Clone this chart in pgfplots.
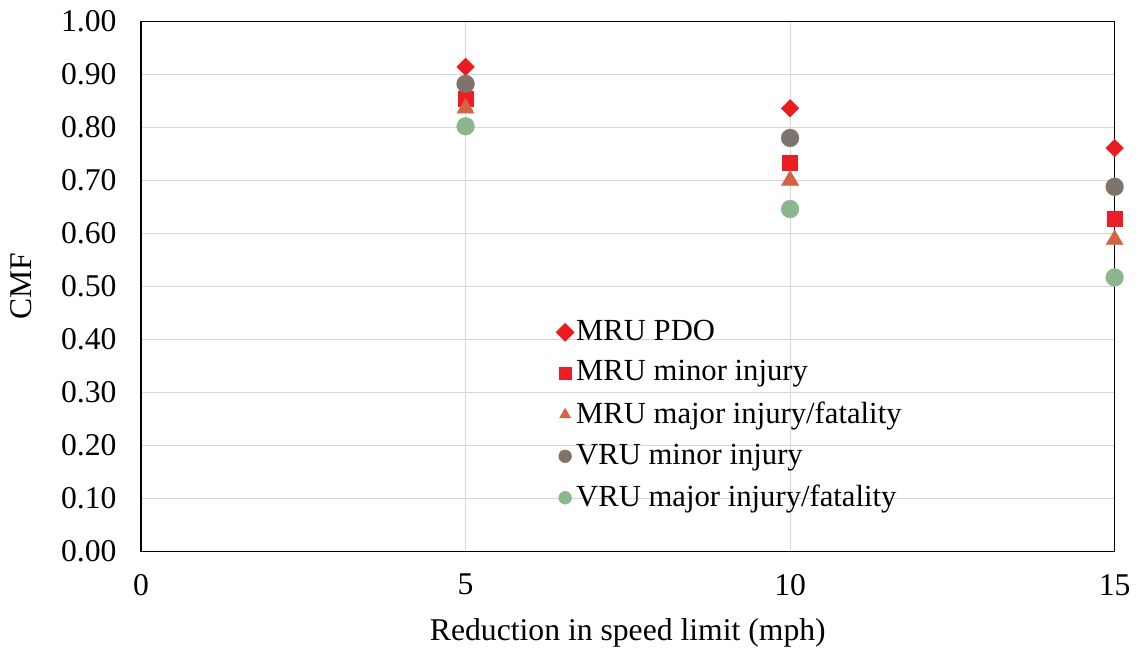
\documentclass[border=0pt]{standalone}
\usepackage{fontspec}
\setmainfont{Liberation Serif}
\usepackage{pgfplots}
\pgfplotsset{compat=1.18}

\definecolor{pdo}{RGB}{232,28,30}
\definecolor{mminor}{RGB}{234,30,36}
\definecolor{mmajor}{RGB}{214,98,68}
\definecolor{vminor}{RGB}{128,116,106}
\definecolor{vmajor}{RGB}{140,182,140}
\definecolor{gridgray}{RGB}{215,215,215}

\begin{document}
\fontsize{32}{38}\selectfont
\begin{tikzpicture}
\begin{axis}[
    scale only axis,
    width=984pt, height=536pt,
    xmin=0, xmax=15, ymin=0, ymax=1,
    xtick={0,5,10,15},
    ytick={0,0.1,...,1.0},
    yticklabel style={/pgf/number format/.cd,fixed,fixed zerofill,precision=2},
    /pgf/number format/assume math mode=true,
    major tick length=0pt,
    xmajorgrids, ymajorgrids,
    grid style={gridgray, line width=1pt},
    axis line style={black, line width=1.5pt},
    tick label style={font=\fontsize{32}{38}\selectfont},
    label style={font=\fontsize{32}{38}\selectfont},
    xlabel={Reduction in speed limit (mph)},
    ylabel={CMF},
    xticklabel shift=12pt,
    yticklabel shift=14pt,
    xlabel style={yshift=-2pt},
    ylabel style={yshift=8pt},
    legend style={draw=none, fill=none, at={(0.423,0.445)}, anchor=north west,
        font=\fontsize{31}{36}\selectfont, row sep=12pt,
        /tikz/every even column/.append style={column sep=4pt}},
    legend cell align=left,
    legend image code/.code={\draw[#1, mark size=6.5pt] plot coordinates {(0.2cm,0cm)};},
]
\addplot[only marks, mark=square*, mark size=6.3pt, mark options={rotate=45}, color=pdo]
  coordinates {(5,0.914)(10,0.836)(15,0.761)};
\addlegendentry{MRU PDO}
\addplot[only marks, mark=square*, mark size=7.5pt, color=mminor]
  coordinates {(5,0.854)(10,0.733)(15,0.627)};
\addlegendentry{MRU minor injury}
\addplot[only marks, mark=triangle*, mark size=10pt, color=mmajor]
  coordinates {(5,0.836)(10,0.700)(15,0.588)};
\addlegendentry{MRU major injury/fatality}
\addplot[only marks, mark=*, mark size=9pt, color=vminor]
  coordinates {(5,0.882)(10,0.780)(15,0.688)};
\addlegendentry{VRU minor injury}
\addplot[only marks, mark=*, mark size=9pt, color=vmajor]
  coordinates {(5,0.802)(10,0.646)(15,0.517)};
\addlegendentry{VRU major injury/fatality}
\end{axis}
\end{tikzpicture}
\end{document}
